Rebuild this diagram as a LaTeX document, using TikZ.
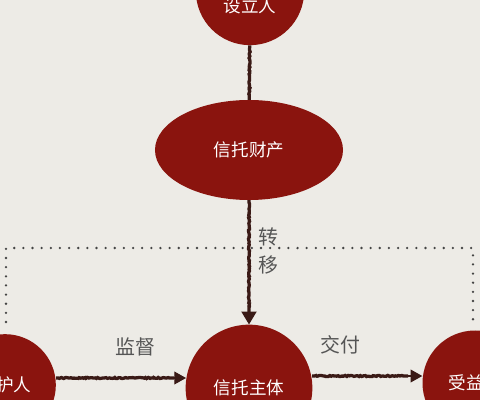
\documentclass[tikz,border=0pt]{standalone}
\usepackage{fontspec}
\newfontfamily\cjk{Noto Sans CJK SC}
\usetikzlibrary{arrows.meta, positioning, shapes.geometric, decorations.pathmorphing}
\definecolor{trustred}{HTML}{8A140E}
\definecolor{paper}{HTML}{EDEBE6}
\definecolor{ink}{HTML}{3A1A16}
\definecolor{labelgray}{HTML}{555555}
\tikzset{
  redcirc/.style={circle, fill=trustred, text=white, inner sep=0pt, font=\cjk\fontsize{15}{15}\selectfont},
  redell/.style={ellipse, fill=trustred, text=white, inner sep=0pt, font=\cjk\fontsize{15}{15}\selectfont},
  link/.style={draw=ink, line width=2.8pt, decorate,
    decoration={random steps, segment length=1.2pt, amplitude=0.5pt, pre length=2pt, post length=4pt}},
  linklabel/.style={text=labelgray, font=\cjk\fontsize{17}{17}\selectfont},
  dotline/.style={draw=labelgray!80!black, line width=2.2pt, line cap=round, dash pattern=on 0pt off 7.8pt}
}
\begin{document}
\begin{tikzpicture}[x=0.03cm, y=-0.03cm]
\fill[paper] (0,0) rectangle (480,400);
\useasboundingbox (0,0) rectangle (480,400);
\clip (0,0) rectangle (480,400);
% nodes
\node[redcirc, minimum size=3.25cm] (settlor) at (250,-9) {\smash{\raisebox{-0.66cm}{设立人}}};
\node[redell, minimum width=5.64cm, minimum height=3cm] (asset) at (249,150) {信托财产};
\node[redcirc, minimum size=3.8cm] (trust) at (249,388) {信托主体};
\node[redcirc, minimum size=3.05cm] (protector) at (5,385) {保护人};
\node[redcirc, minimum size=3.15cm] (benef) at (475,383) {受益人};
% dotted bracket over the lower row
\coordinate (dl) at (6,322);
\coordinate (dr) at (473,322);
\draw[dotline] (dl) -- (6,248) -- (473,248) -- (dr);
% connectors
\draw[link] (settlor) -- (asset);
\draw[link] (asset.south) -- ([yshift=10pt]trust.north);
\draw[-{Triangle[width=13pt, length=11pt]}, ink, line width=1pt] ([yshift=12pt]trust.north) -- (trust.north);
\draw[link] (protector.east |- 0,378) -- (174,378);
\draw[-{Triangle[width=11pt, length=10pt]}, ink, line width=1pt] (172,378) -- (186,378);
\draw[link] (312,376) -- (408,376);
\draw[-{Triangle[width=11pt, length=10pt]}, ink, line width=1pt] (406,376) -- (benef.west |- 0,376);
% labels
\node[linklabel] (lbl1) at (268,237) {转};
\node[linklabel, below=1pt of lbl1] (lbl2) {移};
\node[linklabel] (lbl3) at (135,347) {监督};
\node[linklabel] (lbl4) at (340,345) {交付};
\end{tikzpicture}
\end{document}
